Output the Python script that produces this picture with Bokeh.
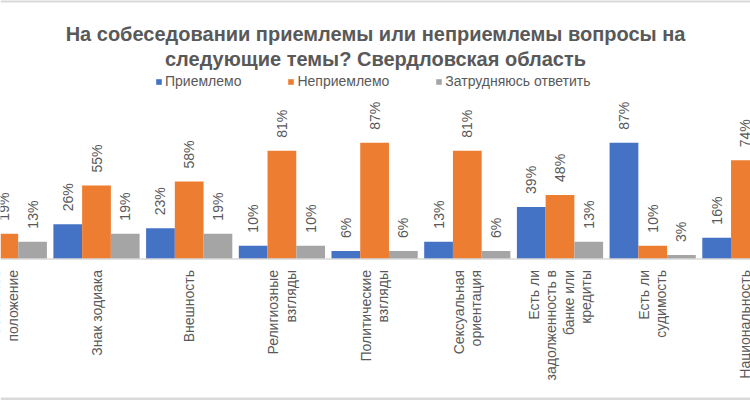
import math
from bokeh.plotting import figure
from bokeh.models import Range1d, Span, Label, Legend, LegendItem
from bokeh.embed import file_html
from bokeh.resources import INLINE
from bokeh.core.properties import value

# ---------------- data ----------------
# None = value lies outside the visible (cropped) part of the original chart
categories = [
    "Семейное\nположение",
    "Знак зодиака",
    "Внешность",
    "Религиозные\nвзгляды",
    "Политические\nвзгляды",
    "Сексуальная\nориентация",
    "Есть ли\nзадолженность в\nбанке или\nкредиты",
    "Есть ли\nсудимость",
    "Национальность",
]
acceptable = [None, 26, 23, 10, 6, 13, 39, 87, 16]
unacceptable = [19, 55, 58, 81, 87, 81, 48, 10, 74]
hard_to_say = [13, 19, 19, 10, 6, 6, 13, 3, None]
series_names = ["Приемлемо", "Неприемлемо", "Затрудняюсь ответить"]
title_lines = [
    "На собеседовании приемлемы или неприемлемы вопросы на",
    "следующие темы? Свердловская область",
]

# ---------------- layout / style ----------------
colors = ["#4472C4", "#ED7D31", "#A5A5A5"]
text_color = "#595959"
font = "Liberation Sans"

W, H = 750, 400
cat_px = 92.7            # pixels per category
first_center_px = 3.3    # centre of first category relative to figure left
px_per_pct = 1.335
base_px = 258.5          # baseline from figure top

x_start = -first_center_px / cat_px
x_end = x_start + W / cat_px
y_end = base_px / px_per_pct
y_start = -(H - base_px) / px_per_pct

p = figure(
    width=W, height=H,
    x_range=Range1d(x_start, x_end), y_range=Range1d(y_start, y_end),
    output_backend="svg", toolbar_location=None,
    x_axis_location=None, y_axis_location=None,
    min_border=0, outline_line_color=None,
)
p.min_border_left = p.min_border_right = p.min_border_top = p.min_border_bottom = 0
p.grid.visible = False
p.background_fill_color = "white"
p.border_fill_color = "white"

# chart border bands (top / bottom)
p.add_layout(Span(location=y_end, dimension="width", line_color="#d9d9d9", line_width=4))
p.add_layout(Span(location=y_start, dimension="width", line_color="#d9d9d9", line_width=6))

n = len(categories)
bw = 0.31
renderers = []
for k, vals in enumerate([acceptable, unacceptable, hard_to_say]):
    idx = [i for i in range(n) if vals[i] is not None]
    xs = [i + (k - 1) * bw for i in idx]
    tops = [vals[i] for i in idx]
    r = p.vbar(x=xs, top=tops, bottom=0, width=bw, fill_color=colors[k], line_color=None)
    renderers.append(r)
    p.text(x=xs, y=tops, text=[f"{v}%" for v in tops], angle=math.pi / 2,
           text_align="left", text_baseline="middle", y_offset=-13,
           text_font=value(font), text_font_size="14px", text_color=text_color)

# axis line
p.add_layout(Span(location=0, dimension="width", line_color="#d9d9d9", line_width=1.5))

# category labels
p.text(x=list(range(n)), y=[0] * n, text=categories, angle=math.pi / 2,
       text_align="right", text_baseline="middle", y_offset=11, text_line_height=1.1,
       text_font=value(font), text_font_size="14px", text_color=text_color)

# title
x_mid = x_start + 375 / cat_px
for line, page_y in zip(title_lines, [33, 58]):
    p.add_layout(Label(x=x_mid, y=(base_px - page_y) / px_per_pct, text=line,
                       text_align="center", text_baseline="alphabetic",
                       text_font=font, text_font_size="20px", text_font_style="bold",
                       text_color=text_color))

legend = Legend(
    items=[LegendItem(label=nm, renderers=[r]) for nm, r in zip(series_names, renderers)],
    location=(155, 311), orientation="horizontal",
    glyph_width=7, glyph_height=7, label_height=7, label_standoff=3, spacing=46,
    padding=0, margin=0, border_line_color=None, background_fill_alpha=0,
    label_text_font=font, label_text_font_size="14px", label_text_color=text_color,
)
p.add_layout(legend)

open("out.html", "w").write(file_html(p, INLINE))
